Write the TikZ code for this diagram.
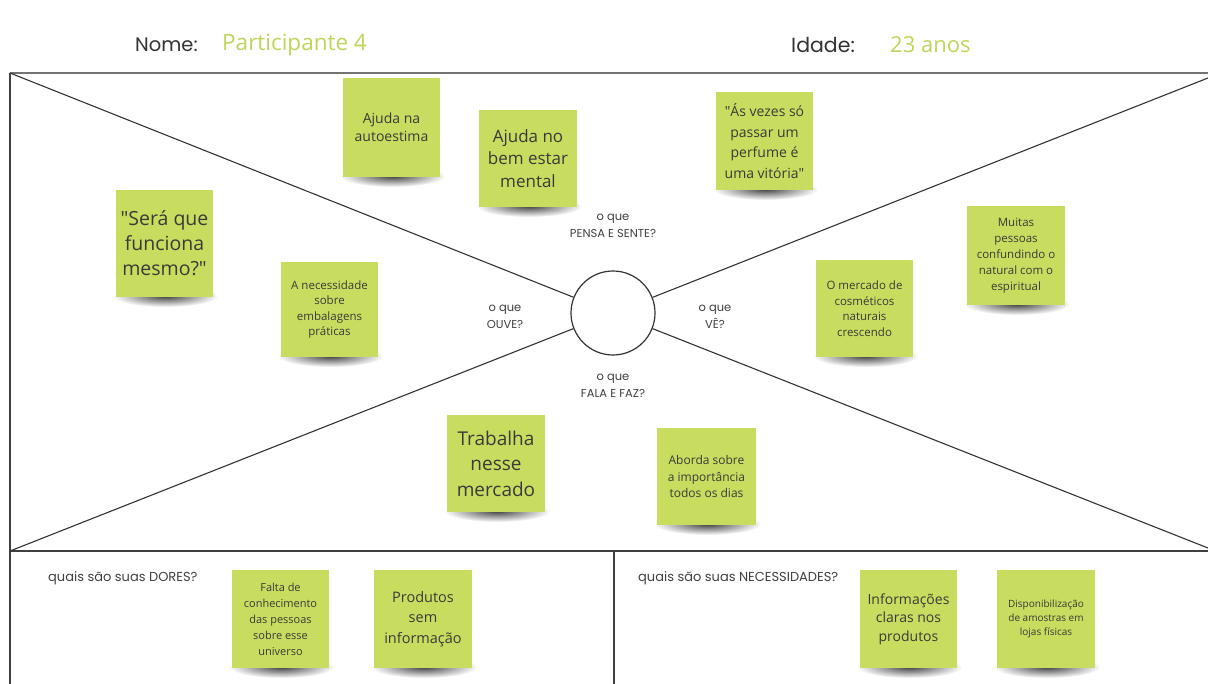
\documentclass[tikz,border=0pt]{standalone}
\usepackage{fontspec}
\setmainfont{Open Sans}
\newfontfamily\labfont{Poppins}
\usetikzlibrary{fadings}
\newcommand\dq{\XeTeXglyph\XeTeXglyphindex "quotedbl"\relax}
\definecolor{stickyc}{HTML}{C8DD5F}
\definecolor{greent}{HTML}{BDD65A}
\definecolor{txt}{HTML}{3A3A3A}
\tikzfading[name=radshadow, inner color=transparent!0, outer color=transparent!100]
\tikzset{
  sticky/.style={fill=stickyc, inner sep=0pt, align=center, text=txt},
  lab/.style={font=\labfont\fontsize{11.5}{16.5}\selectfont, text=black!75, align=center, inner sep=0pt},
  qlab/.style={font=\labfont\fontsize{13}{16}\selectfont, text=black!75, inner sep=0pt, anchor=west},
  framegray/.style={draw=black!55, line width=1.6pt},
  framedark/.style={draw=black!75, line width=1.4pt},
  diag/.style={draw=black!80, line width=1.1pt},
}
\newcommand\stk[8]{%
  \begin{scope}[shift={(#2,#3)}]
    \fill[black, opacity=0.75, path fading=radshadow] (1,{#5/2-1}) ellipse [x radius={#4/2+4}, y radius=11];
  \end{scope}
  \node[sticky, minimum width=#4pt, minimum height=#5pt, font=\fontsize{#6}{#7}\selectfont] (#1) at (#2,#3) {#8};
}
\begin{document}
\begin{tikzpicture}[x=1pt,y=-1pt]
\useasboundingbox (0,0) rectangle (1208,684);
\fill[white] (0,0) rectangle (1208,684);

% header
\node[anchor=west, inner sep=0pt, font=\labfont\fontsize{19.5}{22}\selectfont, text=black!80] (nome) at (135,45) {Nome:};
\node[anchor=west, inner sep=0pt, font=\fontsize{22.5}{25}\selectfont, text=greent] (part) at (222,45) {Participante 4};
\node[anchor=west, inner sep=0pt, font=\labfont\fontsize{20.5}{22}\selectfont, text=black!80] (idade) at (791,45) {Idade:};
\node[anchor=west, inner sep=0pt, font=\fontsize{22}{25}\selectfont, text=greent] (anos) at (890,45) {23 anos};

% frame
\coordinate (tl) at (10,73);
\coordinate (tr) at (1208,73);
\coordinate (trd) at (1208,78);
\coordinate (bl) at (10,551);
\coordinate (br) at (1208,551);
\coordinate (brd) at (1208,548);
\coordinate (lb) at (10,684);
\coordinate (ms) at (614,551);
\coordinate (mb) at (614,684);
\draw[framegray] (tl) -- (tr);
\draw[framedark] (bl) -- (br);
\draw[framedark] (tl) -- (lb);
\draw[framedark] (ms) -- (mb);

\node[circle, draw=black!80, line width=1.2pt, fill=white, minimum size=84pt, inner sep=0pt] (c) at (613,313) {};
\draw[diag] (tl) -- (c);
\draw[diag] (trd) -- (c);
\draw[diag] (bl) -- (c);
\draw[diag] (brd) -- (c);

% labels
\node[lab] (pensa) at (613,226) {o que\\PENSA E SENTE?};
\node[lab] (ouve) at (505,317) {o que\\OUVE?};
\node[lab] (ve) at (715,317) {o que\\VÊ?};
\node[lab] (fala) at (613,386) {o que\\FALA E FAZ?};
\node[qlab] (dores) at (48,578) {quais são suas DORES?};
\node[qlab] (necess) at (638,578) {quais são suas NECESSIDADES?};

% stickies
\stk{autoestima}{391.5}{127.5}{97}{99}{14}{18}{Ajuda na\\autoestima}
\stk{bemestar}{528}{158.5}{98}{97}{17}{22.5}{Ajuda no\\bem estar\\mental}
\stk{vezes}{764.5}{141}{97}{98}{14}{20.5}{\dq Ás vezes só\\passar um\\perfume é\\uma vitória\dq}
\stk{sera}{164.5}{243.5}{97}{107}{19.5}{25}{\dq Será que\\funciona\\mesmo?\dq}
\stk{embal}{329.5}{309.5}{97}{95}{11.5}{15.5}{A necessidade\\sobre\\embalagens\\práticas}
\stk{mercado}{864.5}{308.5}{97}{97}{11.5}{15.5}{O mercado de\\cosméticos\\naturais\\crescendo}
\stk{muitas}{1016}{255.5}{98}{99}{11.5}{16}{Muitas\\pessoas\\confundindo o\\natural com o\\espiritual}
\stk{trabalha}{496}{463.5}{98}{97}{19}{25.5}{Trabalha\\nesse\\mercado}
\stk{aborda}{706.5}{476.5}{99}{97}{12}{16.5}{Aborda sobre\\a importância\\todos os dias}
\stk{falta}{280.5}{619}{97}{98}{11}{16}{Falta de\\conhecimento\\das pessoas\\sobre esse\\universo}
\stk{produtos}{423}{619}{98}{98}{14.5}{20.5}{Produtos\\sem\\informação}
\stk{info}{908.5}{619}{97}{98}{14}{18.5}{Informações\\claras nos\\produtos}
\stk{dispon}{1046}{619}{98}{98}{10}{14}{Disponibilização\\de amostras em\\lojas físicas}
\end{tikzpicture}
\end{document}
